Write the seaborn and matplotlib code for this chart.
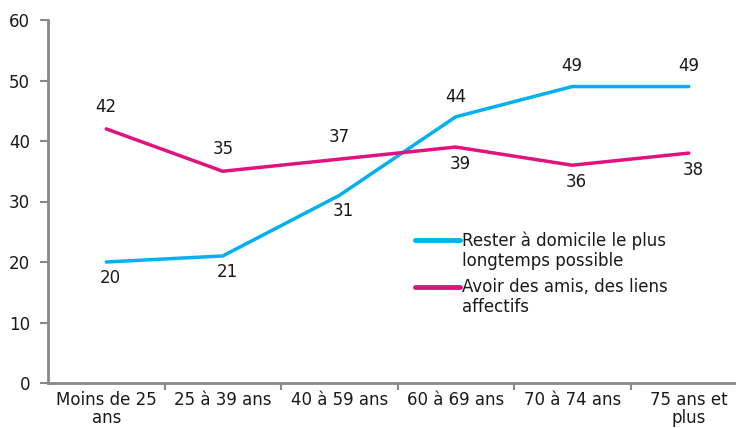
import matplotlib
matplotlib.use("Agg")
import matplotlib.pyplot as plt
import seaborn as sns
import pandas as pd
import numpy as np
from matplotlib.lines import Line2D

categories = ["Moins de 25\nans", "25 à 39 ans", "40 à 59 ans", "60 à 69 ans", "70 à 74 ans", "75 ans et\nplus"]
domicile = [20, 21, 31, 44, 49, 49]
amis = [42, 35, 37, 39, 36, 38]
series_names = ["Rester à domicile le plus\nlongtemps possible", "Avoir des amis, des liens\naffectifs"]
colors = ["#00B0F0", "#E0137E"]
yticks = [0, 10, 20, 30, 40, 50, 60]

sns.set_theme(style="white")
plt.rcParams['font.family'] = ['DejaVu Sans']
FS = 12
TXT = "#1a1a1a"

df = pd.DataFrame({
    "x": list(range(len(categories))) * 2,
    "value": domicile + amis,
    "serie": [series_names[0]] * len(categories) + [series_names[1]] * len(categories),
})

fig = plt.figure(figsize=(7.36, 4.28), dpi=100)
ax = fig.add_axes([48/736, 45/428, (736-48)/736, (383-20)/428])
sns.lineplot(data=df, x="x", y="value", hue="serie", palette=colors, linewidth=2.5,
             ax=ax, legend=False, sort=False)

ax.set_ylim(0, 60)
ax.set_xlim(-0.5, -0.5 + (736-48)/116.5)
ax.set_yticks(yticks)
ax.set_yticklabels([str(v) for v in yticks], fontsize=FS, color=TXT)
ax.set_xticks(range(len(categories)))
ax.set_xticklabels(categories, fontsize=FS, color=TXT, linespacing=0.95)
ax.set_xticks(np.arange(0.5, len(categories) - 0.5, 1), minor=True)
ax.tick_params(axis="x", which="major", bottom=True, length=0, pad=6)
ax.tick_params(axis="x", which="minor", bottom=True, length=5, width=1.5, color="#888888", direction="out")
ax.tick_params(axis="y", left=True, length=6, width=1.5, color="#888888", direction="out", pad=7)
ax.set_xlabel("")
ax.set_ylabel("")
for s in ["top", "right"]:
    ax.spines[s].set_visible(False)
for s in ["left", "bottom"]:
    ax.spines[s].set_color("#888888")
    ax.spines[s].set_linewidth(2)

# data labels
dom_pos = ["below", "below", "below", "above", "above", "above"]
amis_pos = ["above", "above", "above", "below", "below", "below"]
for i, (v, p) in enumerate(zip(domicile, dom_pos)):
    off = 14.5 if p == "above" else -11.5
    ax.annotate(str(v), (i, v), xytext=(3 if p == "below" else 0, off), textcoords="offset points",
                ha="center", va="center", fontsize=FS, color=TXT)
for i, (v, p) in enumerate(zip(amis, amis_pos)):
    off = 16 if p == "above" else -12
    ax.annotate(str(v), (i, v), xytext=(3 if p == "below" else 0, off), textcoords="offset points",
                ha="center", va="center", fontsize=FS, color=TXT)

# legend drawn in figure coordinates, handle aligned with first text line
leg_y = [240, 287]
for name, c, y in zip(series_names, colors, leg_y):
    fig.add_artist(Line2D([415/736, 460/736], [1 - y/428, 1 - y/428], color=c, lw=3.5,
                          transform=fig.transFigure))
    fig.text(462/736, 1 - (y - 9)/428, name, fontsize=FS, color=TXT, ha="left", va="top",
             linespacing=1.15)

fig.savefig("out.png", dpi=100)
